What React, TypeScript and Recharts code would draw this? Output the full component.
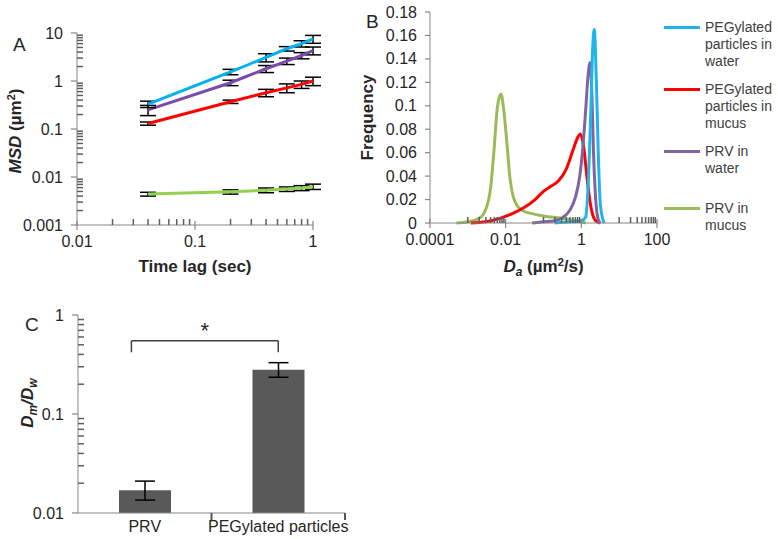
import React from 'react';
import { LineChart, Line, BarChart, Bar, XAxis, YAxis, ErrorBar, Legend, ReferenceLine } from 'recharts';

const FONT = '"Liberation Sans", Arial, Helvetica, sans-serif';
const AXIS = '#868686';
const MINOR = '#5f5f5f';
const INK = '#262626';

// ---- Panel A: MSD vs time lag ----
const timeLag = [0.04, 0.2, 0.4, 0.6, 0.8, 1.0];
const msdPegWater = [0.33, 1.55, 3.1, 4.7, 6.0, 7.5];
const msdPegWaterErr = [0.05, 0.2, 0.6, 0.5, 0.9, 1.4];
const msdPrvWater = [0.25, 0.92, 1.8, 2.6, 3.4, 4.3];
const msdPrvWaterErr = [0.06, 0.12, 0.3, 0.4, 0.5, 0.8];
const msdPegMucus = [0.13, 0.37, 0.57, 0.72, 0.85, 1.0];
const msdPegMucusErr = [0.01, 0.03, 0.1, 0.15, 0.15, 0.2];
const msdPrvMucus = [0.0044, 0.0049, 0.0053, 0.0056, 0.0059, 0.0063];
const msdPrvMucusErr = [0.0004, 0.0005, 0.0006, 0.0006, 0.0007, 0.0008];
const msdXTicks = [0.01, 0.1, 1];
const msdYTicks = [0.001, 0.01, 0.1, 1, 10];

// ---- Panel B: distribution of Da ----
const seriesNames = ['PEGylated particles in water', 'PEGylated particles in mucus', 'PRV in water', 'PRV in mucus'];
const daPegWater = [0.2, 0.5, 1.0, 1.3, 1.5, 1.8, 2.0, 2.2, 2.5, 2.8, 3.2, 4.0];
const freqPegWater = [0, 0.001, 0.002, 0.005, 0.03, 0.1, 0.15, 0.165, 0.12, 0.06, 0.015, 0];
const daPegMucus = [0.0012, 0.003, 0.007, 0.015, 0.03, 0.06, 0.1, 0.15, 0.25, 0.4, 0.6, 0.8, 0.95, 1.15, 1.4, 1.7, 2.1, 2.6, 3.2];
const freqPegMucus = [0, 0.001, 0.004, 0.008, 0.013, 0.02, 0.027, 0.031, 0.036, 0.046, 0.062, 0.073, 0.076, 0.065, 0.04, 0.018, 0.005, 0.001, 0];
const daPrvWater = [0.05, 0.1, 0.2, 0.3, 0.5, 0.7, 0.9, 1.1, 1.3, 1.5, 1.7, 1.9, 2.1, 2.4, 2.8, 3.2];
const freqPrvWater = [0, 0.001, 0.002, 0.004, 0.011, 0.022, 0.039, 0.065, 0.096, 0.125, 0.137, 0.11, 0.06, 0.02, 0.003, 0];
const daPrvMucus = [0.0005, 0.001, 0.002, 0.003, 0.004, 0.005, 0.006, 0.0075, 0.009, 0.011, 0.013, 0.016, 0.02, 0.03, 0.05, 0.1, 0.3, 0.7, 1.0, 1.3];
const freqPrvMucus = [0, 0.001, 0.004, 0.012, 0.03, 0.065, 0.098, 0.11, 0.095, 0.065, 0.038, 0.022, 0.015, 0.01, 0.008, 0.006, 0.004, 0.002, 0.001, 0];
const daXTicks = [0.0001, 0.01, 1, 100];
const freqYTicks = [0, 0.02, 0.04, 0.06, 0.08, 0.1, 0.12, 0.14, 0.16, 0.18];

// ---- Panel C: Dm/Dw ratio ----
const ratioCategories = ['PRV', 'PEGylated particles'];
const ratioValues = [0.017, 0.28];
const ratioErrLow = [0.0035, 0.045];
const ratioErrHigh = [0.004, 0.05];
const ratioYTicks = [0.01, 0.1, 1];
const bracketX = [0.4, 1.5];
const bracketTop = 0.55;
const bracketFoot = 0.42;

// minor tick offsets, in decades, measured from each major tick
const fullDecade = [2, 3, 4, 5, 6, 7, 8, 9].map(k => Math.log10(k));
const secondDecade = [0, ...fullDecade].map(d => 1 + d);

const msdData = timeLag.map((t, i) => ({
  t,
  pegWater: msdPegWater[i], pegWaterErr: msdPegWaterErr[i],
  prvWater: msdPrvWater[i], prvWaterErr: msdPrvWaterErr[i],
  pegMucus: msdPegMucus[i], pegMucusErr: msdPegMucusErr[i],
  prvMucus: msdPrvMucus[i], prvMucusErr: msdPrvMucusErr[i],
}));

const toPoints = (xs: number[], ys: number[]) => xs.map((x, i) => ({ x, y: ys[i] }));

const ratioData = ratioCategories.map((name, i) => ({
  name, value: ratioValues[i], err: [ratioErrLow[i], ratioErrHigh[i]],
}));

const textStyle = { fontFamily: FONT, fill: INK };

const bottomTick = (majors: number[], minors: number[], decadePx: number) => (props: any) => {
  const x = Number(props.x);
  const y = Number(props.y);
  const value = props.payload.value;
  const last = value === majors[majors.length - 1];
  return (
    <g>
      <line x1={x} x2={x} y1={y - 4} y2={y + 5} stroke={AXIS} strokeWidth={1.2} />
      {!last && minors.map((m, i) => (
        <rect key={i} x={x + m * decadePx - 0.75} y={y - 6} width={1.5} height={6} fill={MINOR} />
      ))}
      <text x={x} y={y + 11} dy="0.71em" textAnchor="middle" fontSize={16} {...textStyle}>
        {String(value)}
      </text>
    </g>
  );
};

const leftTick = (majors: number[], minors: number[], decadePx: number) => (props: any) => {
  const x = Number(props.x);
  const y = Number(props.y);
  const value = props.payload.value;
  const last = value === majors[majors.length - 1];
  return (
    <g>
      <line x1={x - 6} x2={x} y1={y} y2={y} stroke={AXIS} strokeWidth={1.2} />
      {!last && minors.map((m, i) => (
        <rect key={i} x={x} y={y - m * decadePx - 0.75} width={6} height={1.5} fill={MINOR} />
      ))}
      <text x={x - 14} y={y} dy="0.35em" textAnchor="end" fontSize={16} {...textStyle}>
        {String(value)}
      </text>
    </g>
  );
};

const leftLinTick = (props: any) => {
  const x = Number(props.x);
  const y = Number(props.y);
  return (
    <g>
      <line x1={x - 5} x2={x} y1={y} y2={y} stroke={AXIS} strokeWidth={1.2} />
      <text x={x - 13} y={y} dy="0.35em" textAnchor="end" fontSize={16} {...textStyle}>
        {String(props.payload.value)}
      </text>
    </g>
  );
};

// category label plus a mark on the right edge of its band
const categoryTick = (bandPx: number) => (props: any) => {
  const x = Number(props.x);
  const y = Number(props.y);
  const edge = x + bandPx / 2;
  return (
    <g>
      <line x1={edge} x2={edge} y1={y - 8} y2={y - 1} stroke="#555" strokeWidth={2} />
      <text x={x} y={y} dy="0.71em" textAnchor="middle" fontSize={16} {...textStyle}>
        {props.payload.value}
      </text>
    </g>
  );
};

const xTitle = (dy: number, body: React.ReactNode) => (props: any) => {
  const { x, y, width } = props.viewBox;
  return (
    <text x={x + width / 2} y={y + dy} textAnchor="middle" fontSize={17} fontWeight="bold" {...textStyle}>
      {body}
    </text>
  );
};

const yTitle = (dx: number, dy: number, body: React.ReactNode) => (props: any) => {
  const { x, y, height } = props.viewBox;
  const cx = x + dx;
  const cy = y + height / 2 + dy;
  return (
    <text x={cx} y={cy} dy="0.35em" textAnchor="middle" transform={`rotate(-90, ${cx}, ${cy})`} fontSize={17} fontWeight="bold" {...textStyle}>
      {body}
    </text>
  );
};

const legendGaps = [11, 11, 23];
const renderLegend = (props: any) => {
  const items = [...(props.payload || [])].sort(
    (a: any, b: any) => seriesNames.indexOf(a.value) - seriesNames.indexOf(b.value),
  );
  return (
    <div style={{ fontFamily: FONT, fontSize: 14, lineHeight: '17px', color: '#404040' }}>
      {items.map((e: any, i: number) => (
        <div key={e.value} style={{ display: 'flex', marginBottom: legendGaps[i] ?? 0 }}>
          <div style={{ width: 36, height: 3, background: e.color, marginTop: 7, marginRight: 5, flex: 'none' }} />
          <div style={{ width: 73 }}>{e.value}</div>
        </div>
      ))}
    </div>
  );
};

const letter = (ch: string, left: number, top: number) => (
  <div style={{ position: 'absolute', left, top, fontFamily: FONT, fontSize: 19, color: INK, lineHeight: '20px' }}>{ch}</div>
);

export default function App() {
  return (
    <div style={{ position: 'absolute', left: 0, top: 0, width: 778, height: 539, background: '#fff', overflow: 'hidden' }}>
      {/* A */}
      <div style={{ position: 'absolute', left: 0, top: 0 }}>
        <LineChart width={330} height={290} data={msdData} margin={{ top: 33, right: 17, bottom: 0, left: 7 }}>
          <XAxis
            type="number" dataKey="t" scale="log" domain={[0.01, 1]} allowDataOverflow
            ticks={msdXTicks} interval={0} tickSize={0} tickMargin={0} tickLine={false}
            axisLine={{ stroke: AXIS }} height={65}
            tick={bottomTick(msdXTicks, fullDecade, 118)}
            label={{ content: xTitle(47, 'Time lag (sec)') }}
          />
          <YAxis
            type="number" scale="log" domain={[0.001, 10]} allowDataOverflow
            ticks={msdYTicks} interval={0} tickSize={0} tickMargin={0} tickLine={false}
            axisLine={{ stroke: AXIS }} width={70}
            tick={leftTick(msdYTicks, fullDecade, 48)}
            label={{
              content: yTitle(8, 2, (
                <>
                  <tspan fontStyle="italic">MSD</tspan>
                  <tspan> (µm</tspan>
                  <tspan dy={-6} fontSize={11}>2</tspan>
                  <tspan dy={6}>)</tspan>
                </>
              )),
            }}
          />
          <Line dataKey="prvMucus" stroke="#92d050" strokeWidth={3} dot={false} isAnimationActive={false}>
            <ErrorBar dataKey="prvMucusErr" direction="y" width={8} stroke="#000" strokeWidth={1.5} isAnimationActive={false} />
          </Line>
          <Line dataKey="pegMucus" stroke="#ff0000" strokeWidth={3} dot={false} isAnimationActive={false}>
            <ErrorBar dataKey="pegMucusErr" direction="y" width={8} stroke="#000" strokeWidth={1.5} isAnimationActive={false} />
          </Line>
          <Line dataKey="prvWater" stroke="#7a4ca8" strokeWidth={3} dot={false} isAnimationActive={false}>
            <ErrorBar dataKey="prvWaterErr" direction="y" width={8} stroke="#000" strokeWidth={1.5} isAnimationActive={false} />
          </Line>
          <Line dataKey="pegWater" stroke="#00b0f0" strokeWidth={3} dot={false} isAnimationActive={false}>
            <ErrorBar dataKey="pegWaterErr" direction="y" width={8} stroke="#000" strokeWidth={1.5} isAnimationActive={false} />
          </Line>
        </LineChart>
      </div>

      {/* B */}
      <div style={{ position: 'absolute', left: 330, top: 0 }}>
        <LineChart width={448} height={290} margin={{ top: 12, right: 121, bottom: 0, left: 40 }}>
          <XAxis
            type="number" dataKey="x" scale="log" domain={[0.0001, 100]} allowDataOverflow
            ticks={daXTicks} interval={0} tickSize={0} tickMargin={0} tickLine={false}
            axisLine={{ stroke: AXIS }} height={67}
            tick={bottomTick(daXTicks, secondDecade, 227 / 6)}
            label={{
              content: xTitle(49, (
                <>
                  <tspan fontStyle="italic">D</tspan>
                  <tspan dy={4} fontSize={12} fontStyle="italic">a</tspan>
                  <tspan dy={-4}> (µm</tspan>
                  <tspan dy={-6} fontSize={11}>2</tspan>
                  <tspan dy={6}>/s)</tspan>
                </>
              )),
            }}
          />
          <YAxis
            type="number" domain={[0, 0.18]} ticks={freqYTicks} interval={0}
            tickSize={0} tickMargin={0} tickLine={false} axisLine={{ stroke: AXIS }} width={60}
            tick={leftLinTick}
            label={{ content: yTitle(-3, 0, 'Frequency') }}
          />
          <Legend layout="vertical" align="center" verticalAlign="middle" content={renderLegend}
            wrapperStyle={{ left: 334, top: 18.5, width: 114 }} />
          <Line data={toPoints(daPrvMucus, freqPrvMucus)} dataKey="y" name={seriesNames[3]} type="monotone" stroke="#9bbb59" strokeWidth={3} dot={false} isAnimationActive={false} />
          <Line data={toPoints(daPegMucus, freqPegMucus)} dataKey="y" name={seriesNames[1]} type="monotone" stroke="#ff0000" strokeWidth={3} dot={false} isAnimationActive={false} />
          <Line data={toPoints(daPrvWater, freqPrvWater)} dataKey="y" name={seriesNames[2]} type="monotone" stroke="#8064a2" strokeWidth={3} dot={false} isAnimationActive={false} />
          <Line data={toPoints(daPegWater, freqPegWater)} dataKey="y" name={seriesNames[0]} type="monotone" stroke="#1fb4ec" strokeWidth={3} dot={false} isAnimationActive={false} />
        </LineChart>
      </div>

      {/* C */}
      <div style={{ position: 'absolute', left: 0, top: 290 }}>
        <BarChart width={360} height={249} data={ratioData} margin={{ top: 25, right: 15, bottom: 0, left: 8 }} barSize={52}>
          <XAxis dataKey="name" tickSize={0} tickMargin={8} tickLine={false} axisLine={{ stroke: AXIS }} height={26}
            interval={0} tick={categoryTick(267 / 2)} />
          <XAxis xAxisId="ann" type="number" dataKey="pos" domain={[0, 2]} allowDataOverflow hide />
          <YAxis
            type="number" scale="log" domain={[0.01, 1]} allowDataOverflow
            ticks={ratioYTicks} interval={0} tickSize={0} tickMargin={0} tickLine={false}
            axisLine={{ stroke: AXIS }} width={70}
            tick={leftTick(ratioYTicks, fullDecade, 99)}
            label={{
              content: yTitle(19, -11, (
                <>
                  <tspan fontStyle="italic">D</tspan>
                  <tspan dy={4} fontSize={12} fontStyle="italic">m</tspan>
                  <tspan dy={-4} fontStyle="italic">/D</tspan>
                  <tspan dy={4} fontSize={12} fontStyle="italic">w</tspan>
                </>
              )),
            }}
          />
          <Bar dataKey="value" fill="#595959" isAnimationActive={false}>
            <ErrorBar dataKey="err" direction="y" width={10} stroke="#000" strokeWidth={1.5} isAnimationActive={false} />
          </Bar>
          <ReferenceLine xAxisId="ann" ifOverflow="visible" segment={[{ x: bracketX[0], y: bracketTop }, { x: bracketX[1], y: bracketTop }]}
            stroke="#404040" strokeWidth={1.5}
            label={{ value: '*', position: 'top', offset: 3, fontSize: 22, fill: INK, fontFamily: FONT }} />
          <ReferenceLine xAxisId="ann" ifOverflow="visible" segment={[{ x: bracketX[0], y: bracketTop }, { x: bracketX[0], y: bracketFoot }]}
            stroke="#404040" strokeWidth={1.5} />
          <ReferenceLine xAxisId="ann" ifOverflow="visible" segment={[{ x: bracketX[1], y: bracketTop }, { x: bracketX[1], y: bracketFoot }]}
            stroke="#404040" strokeWidth={1.5} />
        </BarChart>
      </div>

      {letter('A', 13, 35)}
      {letter('B', 366, 12)}
      {letter('C', 25, 315)}
    </div>
  );
}
